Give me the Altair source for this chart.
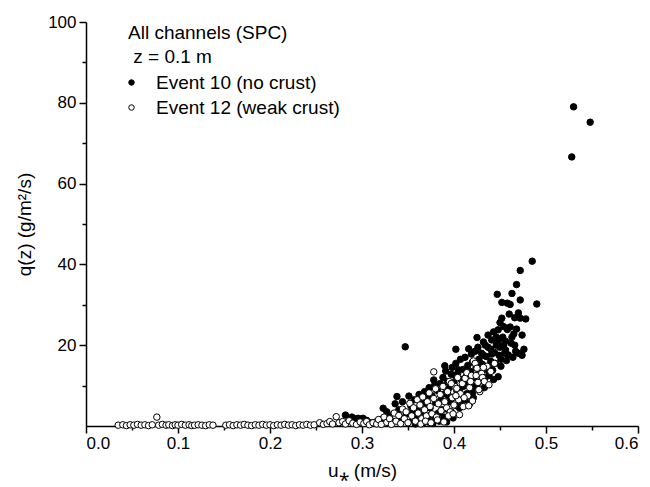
import altair as alt
import pandas as pd

S10 = "Event 10 (no crust)"
S12 = "Event 12 (weak crust)"

# Event 10 (no crust): u* (m/s), q(z) (g/m2/s)
e10_u = [0.282, 0.289, 0.293, 0.296, 0.301, 0.305, 0.298, 0.310, 0.315, 0.320,
         0.323, 0.327, 0.330, 0.333, 0.336, 0.338, 0.340, 0.342, 0.344, 0.347,
         0.348, 0.351, 0.353, 0.355, 0.357, 0.360, 0.360, 0.362, 0.364, 0.365,
         0.367, 0.368, 0.370, 0.371, 0.373, 0.374, 0.376, 0.378, 0.379, 0.379,
         0.380, 0.382, 0.383, 0.385, 0.386, 0.388, 0.390, 0.391, 0.390, 0.392,
         0.393, 0.395, 0.396, 0.397, 0.398, 0.400, 0.400, 0.402, 0.402, 0.403,
         0.404, 0.405, 0.406, 0.407, 0.408, 0.410, 0.410, 0.412, 0.412, 0.413,
         0.415, 0.416, 0.416, 0.418, 0.419, 0.420, 0.420, 0.422, 0.423, 0.424,
         0.425, 0.425, 0.426, 0.427, 0.428, 0.430, 0.430, 0.431, 0.432, 0.433,
         0.434, 0.435, 0.436, 0.437, 0.438, 0.440, 0.440, 0.441, 0.442, 0.443,
         0.444, 0.445, 0.446, 0.447, 0.447, 0.448, 0.448, 0.449, 0.450, 0.450,
         0.451, 0.452, 0.452, 0.453, 0.454, 0.455, 0.456, 0.457, 0.458, 0.458,
         0.459, 0.460, 0.461, 0.462, 0.463, 0.464, 0.465, 0.466, 0.467, 0.468,
         0.470, 0.472, 0.472, 0.472, 0.474, 0.478, 0.485, 0.490, 0.528, 0.530,
         0.548,
         0.355, 0.358, 0.362, 0.366, 0.369, 0.372, 0.375, 0.377, 0.381, 0.384,
         0.387, 0.389, 0.392, 0.394, 0.397, 0.399, 0.401, 0.403, 0.406, 0.409,
         0.411, 0.414, 0.417, 0.419, 0.421, 0.424, 0.426, 0.429, 0.432, 0.434,
         0.437, 0.439, 0.441, 0.443, 0.446, 0.449, 0.451, 0.454, 0.456, 0.461,
         0.463, 0.466, 0.468, 0.470, 0.476, 0.474]
e10_q = [2.7, 2.2, 1.8, 1.9, 1.9, 1.4, 1.2, 0.8, 1.0, 1.6,
         4.4, 3.5, 2.5, 1.2, 5.5, 7.3, 4.0, 2.0, 6.0, 19.6,
         3.0, 7.4, 5.0, 1.5, 6.5, 4.2, 2.5, 7.8, 0.8, 5.6,
         3.5, 8.5, 6.8, 2.0, 9.5, 4.5, 7.5, 11.4, 10.1, 1.5,
         5.8, 8.8, 3.2, 10.5, 6.5, 12.0, 14.9, 13.6, 8.0, 4.2,
         11.0, 9.5, 6.0, 12.8, 14.5, 10.8, 7.2, 19.0, 15.5, 5.0,
         13.0, 13.9, 8.5, 16.5, 11.5, 14.0, 9.8, 17.0, 6.5, 12.2,
         15.0, 19.1, 10.5, 13.5, 17.8, 8.2, 15.8, 12.0, 18.5, 14.5,
         21.9, 10.0, 19.5, 16.5, 13.0, 18.0, 11.2, 15.2, 20.8, 9.5,
         20.0, 17.2, 14.0, 22.5, 12.5, 19.0, 16.0, 21.3, 13.8, 23.3,
         18.2, 15.5, 20.0, 20.6, 32.6, 23.8, 12.2, 17.5, 25.6, 19.5,
         14.8, 26.7, 30.6, 22.0, 24.6, 18.0, 21.0, 16.2, 23.9, 30.4,
         17.6, 27.7, 30.1, 20.5, 32.8, 17.0, 22.8, 26.8, 18.5, 35.0,
         18.0, 31.2, 26.7, 38.5, 17.5, 26.5, 40.8, 30.2, 66.6, 79.0,
         75.2,
         3.8, 0.5, 1.2, 0.6, 4.8, 1.0, 2.8, 0.6, 2.0, 1.2,
         4.0, 2.2, 1.0, 7.5, 3.5, 2.0, 12.5, 8.8, 4.5, 6.2,
         11.0, 8.0, 5.5, 10.0, 7.0, 9.5, 12.8, 15.5, 17.5, 12.0,
         19.5, 15.0, 17.8, 11.5, 22.0, 21.5, 16.5, 20.0, 18.8, 24.5,
         22.0, 20.0, 24.0, 28.0, 19.0, 22.5]

# Event 12 (weak crust)
e12_u = [0.035, 0.040, 0.044, 0.048, 0.052, 0.056, 0.060, 0.064, 0.068, 0.072,
         0.077, 0.079, 0.083, 0.087, 0.090, 0.094, 0.097, 0.100, 0.104, 0.108,
         0.112, 0.115, 0.118, 0.122, 0.126, 0.130, 0.134, 0.138,
         0.152, 0.156, 0.160, 0.164, 0.168, 0.172, 0.176, 0.180, 0.184, 0.188,
         0.192, 0.196, 0.200, 0.204, 0.208, 0.212, 0.216, 0.220, 0.224, 0.228,
         0.232, 0.236, 0.240, 0.244, 0.248,
         0.254, 0.258, 0.262, 0.265, 0.268, 0.272, 0.275, 0.279, 0.282, 0.286,
         0.290, 0.294, 0.298, 0.302, 0.305, 0.308, 0.312, 0.316, 0.318, 0.321,
         0.324, 0.327, 0.330, 0.332, 0.335, 0.337, 0.340, 0.342, 0.344, 0.346,
         0.348, 0.350, 0.352, 0.354, 0.356, 0.358, 0.360, 0.361, 0.363, 0.365,
         0.366, 0.368, 0.370, 0.371, 0.373, 0.374, 0.376, 0.378, 0.378, 0.380,
         0.381, 0.383, 0.385, 0.386, 0.388, 0.390, 0.392, 0.393, 0.395, 0.396,
         0.398, 0.400, 0.401, 0.403, 0.404, 0.405, 0.407, 0.409, 0.410, 0.412,
         0.414, 0.415, 0.417, 0.419, 0.420, 0.421, 0.423, 0.425, 0.426, 0.428,
         0.430, 0.431, 0.433, 0.436, 0.438, 0.440, 0.444,
         0.364, 0.369, 0.375, 0.382, 0.389, 0.394, 0.399, 0.406, 0.411, 0.416,
         0.418, 0.424, 0.427, 0.432, 0.402, 0.397]
e12_q = [0.2, 0.3, 0.1, 0.3, 0.2, 0.4, 0.2, 0.3, 0.1, 0.3,
         2.2, 0.2, 0.4, 0.2, 0.3, 0.1, 0.3, 0.2, 0.4, 0.2,
         0.3, 0.1, 0.2, 0.3, 0.2, 0.1, 0.3, 0.2,
         0.2, 0.3, 0.1, 0.3, 0.2, 0.4, 0.2, 0.1, 0.3, 0.2,
         0.4, 0.2, 0.3, 0.1, 0.3, 0.2, 0.4, 0.2, 0.3, 0.1,
         0.3, 0.2, 0.4, 0.2, 0.3,
         0.8, 0.4, 0.6, 1.1, 0.5, 2.3, 0.8, 1.1, 0.5, 1.3,
         0.7, 0.4, 1.0, 0.6, 1.1, 0.3, 0.8, 0.5, 1.6, 0.4,
         2.2, 0.9, 1.8, 0.4, 3.2, 1.2, 2.6, 0.6, 4.2, 1.8,
         3.5, 0.8, 5.6, 2.5, 4.5, 1.2, 6.5, 3.2, 5.2, 1.8,
         7.2, 4.0, 2.5, 6.0, 8.2, 4.8, 3.0, 13.4, 6.8, 9.2,
         2.2, 5.5, 7.8, 3.8, 9.8, 6.0, 4.5, 8.5, 11.0, 3.5,
         7.0, 5.2, 9.8, 9.3, 12.0, 6.5, 8.0, 10.5, 4.8, 11.8,
         13.2, 7.5, 9.5, 12.5, 6.2, 16.1, 15.5, 14.3, 10.8, 8.5,
         13.0, 12.0, 11.0, 14.8, 10.2, 13.5, 15.5,
         0.5, 1.2, 0.8, 1.5, 1.0, 2.5, 3.0, 2.8, 7.0, 5.0,
         11.0, 12.5, 9.0, 14.5, 7.5, 10.5]

x_ticks = [0.0, 0.05, 0.1, 0.15, 0.2, 0.25, 0.3, 0.35, 0.4, 0.45, 0.5, 0.55, 0.6]
y_ticks = [10, 20, 30, 40, 50, 60, 70, 80, 90, 100]

df = pd.DataFrame({
    "u": e10_u + e12_u,
    "q": e10_q + e12_q,
    "series": [S10] * len(e10_u) + [S12] * len(e12_u),
})

FONT = "Liberation Sans"

chart = alt.Chart(df).mark_point(
    shape="circle", filled=True, stroke="black", strokeWidth=1, opacity=1, size=42
).encode(
    x=alt.X("u:Q", title="u\u204e (m/s)",
            scale=alt.Scale(domain=[0, 0.6], nice=False, zero=True),
            axis=alt.Axis(values=x_ticks, format=".1f",
                          labelExpr="round(datum.value*100) % 10 === 0 ? datum.label : ''",
                          tickSize={"condition": {"test": "round(datum.value*100) % 10 === 0", "value": 7}, "value": 4},
                          grid=False, domainColor="black", domainWidth=1.5,
                          tickColor="black", tickWidth=1.5, labelColor="black",
                          labelFont=FONT, labelFontSize=17, labelPadding=2,
                          titleFont=FONT, titleFontSize=19, titleFontWeight="normal",
                          titleColor="black", titlePadding=10)),
    y=alt.Y("q:Q", title="q(z) (g/m\u00b2/s)",
            scale=alt.Scale(domain=[0, 100], nice=False),
            axis=alt.Axis(values=y_ticks,
                          labelExpr="datum.value % 20 === 0 ? datum.label : ''",
                          tickSize={"condition": {"test": "datum.value % 20 === 0", "value": 7}, "value": 4},
                          grid=False, domainColor="black", domainWidth=1.5,
                          tickColor="black", tickWidth=1.5, labelColor="black",
                          labelFont=FONT, labelFontSize=17, labelPadding=3,
                          titleFont=FONT, titleFontSize=19, titleFontWeight="normal",
                          titleColor="black", titlePadding=13)),
    fill=alt.Fill("series:N",
                  scale=alt.Scale(domain=[S10, S12], range=["black", "white"]),
                  legend=alt.Legend(
                      title=["All channels (SPC)", "\u200b\u00a0z = 0.1 m"],
                      orient="none", legendX=42, legendY=2, padding=0,
                      titleFont=FONT, titleFontSize=19, titleFontWeight="normal",
                      titleColor="black", titleLineHeight=24, titlePadding=6,
                      titleLimit=400,
                      labelFont=FONT, labelFontSize=19, labelColor="black",
                      labelLimit=400,
                      labelOffset=15, rowPadding=5, symbolOffset=-6,
                      symbolType="circle", symbolSize=30,
                      symbolStrokeColor="black", symbolStrokeWidth=1,
                      symbolOpacity=1)),
).properties(
    width=552, height=404,
    padding={"left": 86, "top": 22, "right": 12, "bottom": 61},
    autosize=alt.AutoSizeParams(type="none"),
    background="white",
).configure_view(stroke=None)

chart.save("out.html", embed_options={"renderer": "svg", "actions": False})
